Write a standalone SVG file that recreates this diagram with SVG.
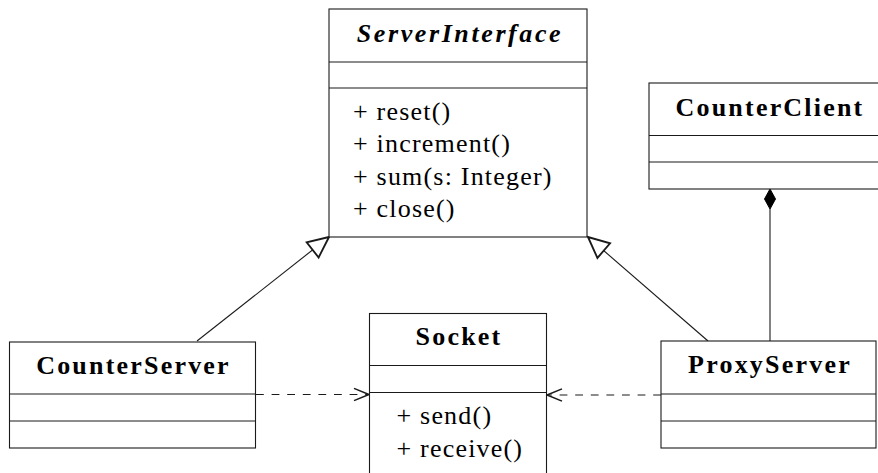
<svg xmlns="http://www.w3.org/2000/svg" width="878" height="473" viewBox="0 0 878 473">
  <defs>
    <!-- hollow triangle for realization -->
    <marker id="realize" markerUnits="userSpaceOnUse" markerWidth="30" markerHeight="30" refX="0" refY="0" viewBox="-16 -9 18 18" orient="auto" overflow="visible">
      <path d="M0,0 L-12.5,-5.8 L-12.5,5.8 Z" fill="#ffffff" stroke="#1a1a1a" stroke-width="1.1" stroke-dasharray="none"/>
    </marker>
    <!-- open arrow for dependency -->
    <marker id="open" markerUnits="userSpaceOnUse" markerWidth="20" markerHeight="20" refX="0" refY="0" viewBox="-12 -6 14 12" orient="auto" overflow="visible">
      <path d="M-10.5,-4.3 L0,0 L-10.5,4.3" fill="none" stroke="#1a1a1a" stroke-width="1.1" stroke-dasharray="none"/>
    </marker>
  </defs>

  <g id="connectors" fill="none" stroke="#1a1a1a" stroke-width="1.1">
    <!-- CounterServer realizes ServerInterface -->
    <line x1="197" y1="341" x2="329" y2="237" marker-end="url(#realize)"/>
    <!-- ProxyServer realizes ServerInterface -->
    <line x1="708" y1="341" x2="588" y2="237" marker-end="url(#realize)"/>
    <!-- CounterClient owns ProxyServer (composition) -->
    <line x1="770" y1="341" x2="770" y2="209"/>
    <path d="M770,189 L775.5,199 L770,209 L764.5,199 Z" fill="#000" stroke="#000" stroke-width="1"/>
    <!-- dependencies on Socket -->
    <line x1="256" y1="394.5" x2="369" y2="394.5" stroke-dasharray="7.8 7.8" marker-end="url(#open)"/>
    <line x1="661" y1="395" x2="547" y2="395" stroke-dasharray="7.8 7.8" marker-end="url(#open)"/>
  </g>

  <g id="ServerInterface" stroke="#1a1a1a" stroke-width="1.1">
    <rect x="329" y="9" width="258" height="228" fill="#ffffff"/>
    <line x1="329" y1="62" x2="587" y2="62"/>
    <line x1="329" y1="88" x2="587" y2="88"/>
    <text x="460" y="42" font-family="Liberation Serif" font-size="26" font-weight="bold" font-style="italic" text-anchor="middle" letter-spacing="2.6" fill="#000" stroke="none">ServerInterface</text>
    <text x="353" y="119.5" font-family="Liberation Serif" font-size="26" letter-spacing="1.2" fill="#000" stroke="none">+ reset()</text>
    <text x="353" y="152" font-family="Liberation Serif" font-size="26" letter-spacing="1.2" fill="#000" stroke="none">+ increment()</text>
    <text x="353" y="184.5" font-family="Liberation Serif" font-size="26" letter-spacing="1.2" fill="#000" stroke="none">+ sum(s: Integer)</text>
    <text x="353" y="217" font-family="Liberation Serif" font-size="26" letter-spacing="1.2" fill="#000" stroke="none">+ close()</text>
  </g>

  <g id="CounterClient" stroke="#1a1a1a" stroke-width="1.1">
    <rect x="649" y="83" width="240" height="106" fill="#ffffff"/>
    <line x1="649" y1="135.5" x2="889" y2="135.5"/>
    <line x1="649" y1="162" x2="889" y2="162"/>
    <text x="770" y="116" font-family="Liberation Serif" font-size="26" font-weight="bold" text-anchor="middle" letter-spacing="2.2" fill="#000" stroke="none">CounterClient</text>
  </g>

  <g id="CounterServer" stroke="#1a1a1a" stroke-width="1.1">
    <rect x="9.5" y="342" width="246" height="106" fill="#ffffff"/>
    <line x1="9.5" y1="394" x2="255.5" y2="394"/>
    <line x1="9.5" y1="421" x2="255.5" y2="421"/>
    <text x="133.5" y="374" font-family="Liberation Serif" font-size="26" font-weight="bold" text-anchor="middle" letter-spacing="2.2" fill="#000" stroke="none">CounterServer</text>
  </g>

  <g id="Socket" stroke="#1a1a1a" stroke-width="1.1">
    <rect x="369.5" y="313.5" width="177" height="200" fill="#ffffff"/>
    <line x1="369.5" y1="365.5" x2="546.5" y2="365.5"/>
    <line x1="369.5" y1="392.5" x2="546.5" y2="392.5"/>
    <text x="459" y="345" font-family="Liberation Serif" font-size="26" font-weight="bold" text-anchor="middle" letter-spacing="2.2" fill="#000" stroke="none">Socket</text>
    <text x="396.5" y="424" font-family="Liberation Serif" font-size="26" letter-spacing="1.2" fill="#000" stroke="none">+ send()</text>
    <text x="396.5" y="456.5" font-family="Liberation Serif" font-size="26" letter-spacing="1.2" fill="#000" stroke="none">+ receive()</text>
  </g>

  <g id="ProxyServer" stroke="#1a1a1a" stroke-width="1.1">
    <rect x="661" y="341" width="215" height="107" fill="#ffffff"/>
    <line x1="661" y1="394" x2="876" y2="394"/>
    <line x1="661" y1="421" x2="876" y2="421"/>
    <text x="770" y="373" font-family="Liberation Serif" font-size="26" font-weight="bold" text-anchor="middle" letter-spacing="2.2" fill="#000" stroke="none">ProxyServer</text>
  </g>
</svg>
